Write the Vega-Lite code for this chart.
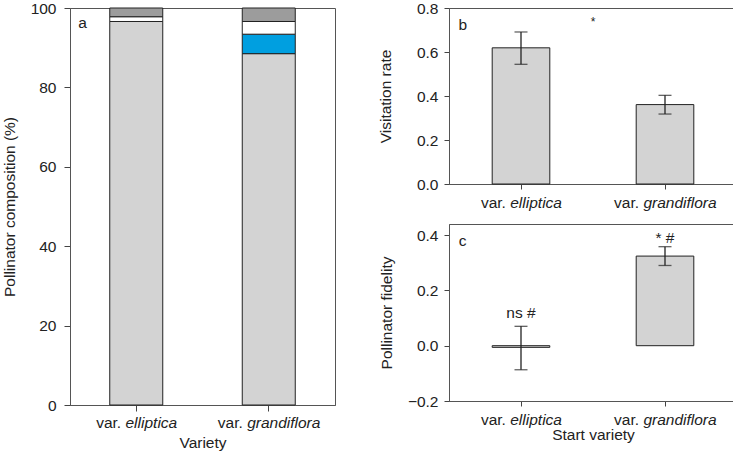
{
  "$schema": "https://vega.github.io/schema/vega-lite/v6.json",
  "padding": {"left": 1, "top": 0, "right": 0, "bottom": 0},
  "config": {
    "font": "Liberation Sans",
    "view": {"stroke": "#555", "strokeWidth": 1},
    "axis": {"grid": false, "labelFontSize": 15.5, "titleFontSize": 15.5, "titleFontWeight": "normal", "labelColor": "#222", "titleColor": "#222", "domainColor": "#555", "tickColor": "#444", "tickSize": 6},
    "text": {"font": "Liberation Sans", "color": "#222"}
  },
  "datasets": {
    "comp": [
      {"variety": "var. elliptica", "taxon": "T1", "rank": 1, "percent": 96.6},
      {"variety": "var. elliptica", "taxon": "T3", "rank": 3, "percent": 1.2},
      {"variety": "var. elliptica", "taxon": "T4", "rank": 4, "percent": 2.2},
      {"variety": "var. grandiflora", "taxon": "T1", "rank": 1, "percent": 88.5},
      {"variety": "var. grandiflora", "taxon": "T2", "rank": 2, "percent": 4.9},
      {"variety": "var. grandiflora", "taxon": "T3", "rank": 3, "percent": 3.2},
      {"variety": "var. grandiflora", "taxon": "T4", "rank": 4, "percent": 3.4}
    ],
    "rate": [
      {"variety": "var. elliptica", "rate": 0.619, "lower": 0.544, "upper": 0.691},
      {"variety": "var. grandiflora", "rate": 0.361, "lower": 0.318, "upper": 0.403}
    ],
    "fid": [
      {"variety": "var. elliptica", "fidelity": -0.006, "lower": -0.087, "upper": 0.070, "sig": "ns #"},
      {"variety": "var. grandiflora", "fidelity": 0.324, "lower": 0.290, "upper": 0.358, "sig": "* #"}
    ],
    "labels": [
      {"variety": "var. elliptica", "pre": "var.", "name": "elliptica", "tagA": "a", "tagB": "b", "tagC": "c", "star": "*"},
      {"variety": "var. grandiflora", "pre": "var.", "name": "grandiflora", "tagA": "", "tagB": "", "tagC": "", "star": ""}
    ]
  },
  "spacing": 41,
  "hconcat": [
    {
      "width": 265,
      "height": 397,
      "encoding": {
        "x": {"field": "variety", "type": "nominal", "scale": {"domain": ["var. elliptica", "var. grandiflora"], "paddingInner": 0.6, "paddingOuter": 0.3},
              "axis": {"title": "Variety", "labels": false, "labelAngle": 0, "titlePadding": 24}}
      },
      "layer": [
        {
          "data": {"name": "comp"},
          "mark": {"type": "bar", "stroke": "#222", "strokeWidth": 1},
          "encoding": {
            "y": {"field": "percent", "type": "quantitative", "stack": "zero", "scale": {"domain": [0, 100], "nice": false},
                  "axis": {"title": "Pollinator composition (%)", "values": [0, 20, 40, 60, 80, 100], "format": "d", "labelPadding": 8, "titlePadding": 13}},
            "color": {"field": "taxon", "type": "nominal", "scale": {"domain": ["T1", "T2", "T3", "T4"], "range": ["#d3d3d3", "#009fe0", "#ffffff", "#9c9c9c"]}, "legend": null},
            "order": {"field": "rank", "type": "quantitative"}
          }
        },
        {
          "data": {"name": "labels"},
          "transform": [{"filter": "datum.variety === 'var. elliptica'"}],
          "mark": {"type": "text", "align": "right", "baseline": "alphabetic", "dx": -15.1, "dy": 23, "fontSize": 15.5},
          "encoding": {"y": {"datum": 0}, "text": {"field": "pre"}}
        },
        {
          "data": {"name": "labels"},
          "transform": [{"filter": "datum.variety === 'var. elliptica'"}],
          "mark": {"type": "text", "align": "left", "baseline": "alphabetic", "dx": -10.75, "dy": 23, "fontSize": 15.5, "fontStyle": "italic"},
          "encoding": {"y": {"datum": 0}, "text": {"field": "name"}}
        },
        {
          "data": {"name": "labels"},
          "transform": [{"filter": "datum.variety === 'var. grandiflora'"}],
          "mark": {"type": "text", "align": "right", "baseline": "alphabetic", "dx": -25.9, "dy": 23, "fontSize": 15.5},
          "encoding": {"y": {"datum": 0}, "text": {"field": "pre"}}
        },
        {
          "data": {"name": "labels"},
          "transform": [{"filter": "datum.variety === 'var. grandiflora'"}],
          "mark": {"type": "text", "align": "left", "baseline": "alphabetic", "dx": -21.6, "dy": 23, "fontSize": 15.5, "fontStyle": "italic"},
          "encoding": {"y": {"datum": 0}, "text": {"field": "name"}}
        },
        {
          "data": {"name": "labels"},
          "transform": [{"filter": "datum.variety === 'var. elliptica'"}],
          "mark": {"type": "text", "align": "left", "baseline": "alphabetic", "dx": -58, "fontSize": 15.5},
          "encoding": {"y": {"datum": 95}, "text": {"field": "tagA"}}
        }
      ]
    },
    {
      "spacing": 11,
      "vconcat": [
        {
          "width": 288,
          "height": 176,
          "encoding": {
            "x": {"field": "variety", "type": "nominal", "scale": {"domain": ["var. elliptica", "var. grandiflora"], "paddingInner": 0.6, "paddingOuter": 0.3},
                  "axis": {"title": null, "labels": false, "tickSize": 5}}
          },
          "layer": [
            {
              "data": {"name": "rate"},
              "mark": {"type": "bar", "fill": "#d3d3d3", "stroke": "#222", "strokeWidth": 1},
              "encoding": {
                "y": {"field": "rate", "type": "quantitative", "scale": {"domain": [0, 0.8], "nice": false},
                      "axis": {"title": "Visitation rate", "values": [0, 0.2, 0.4, 0.6, 0.8], "format": ".1f", "tickSize": 5, "labelPadding": 6, "titlePadding": 23}}
              }
            },
            {
              "data": {"name": "rate"},
              "mark": {"type": "rule", "color": "#222", "strokeWidth": 1.3},
              "encoding": {"y": {"field": "lower", "type": "quantitative"}, "y2": {"field": "upper"}}
            },
            {
              "data": {"name": "rate"},
              "mark": {"type": "tick", "color": "#222", "size": 13, "thickness": 1.3},
              "encoding": {"y": {"field": "upper", "type": "quantitative"}}
            },
            {
              "data": {"name": "rate"},
              "mark": {"type": "tick", "color": "#222", "size": 13, "thickness": 1.3},
              "encoding": {"y": {"field": "lower", "type": "quantitative"}}
            },
            {
              "data": {"name": "labels"},
              "transform": [{"filter": "datum.variety === 'var. elliptica'"}],
              "mark": {"type": "text", "align": "right", "baseline": "alphabetic", "dx": -15.1, "dy": 24, "fontSize": 15.5},
              "encoding": {"y": {"datum": 0}, "text": {"field": "pre"}}
            },
            {
              "data": {"name": "labels"},
              "transform": [{"filter": "datum.variety === 'var. elliptica'"}],
              "mark": {"type": "text", "align": "left", "baseline": "alphabetic", "dx": -10.75, "dy": 24, "fontSize": 15.5, "fontStyle": "italic"},
              "encoding": {"y": {"datum": 0}, "text": {"field": "name"}}
            },
            {
              "data": {"name": "labels"},
              "transform": [{"filter": "datum.variety === 'var. grandiflora'"}],
              "mark": {"type": "text", "align": "right", "baseline": "alphabetic", "dx": -25.9, "dy": 24, "fontSize": 15.5},
              "encoding": {"y": {"datum": 0}, "text": {"field": "pre"}}
            },
            {
              "data": {"name": "labels"},
              "transform": [{"filter": "datum.variety === 'var. grandiflora'"}],
              "mark": {"type": "text", "align": "left", "baseline": "alphabetic", "dx": -21.6, "dy": 24, "fontSize": 15.5, "fontStyle": "italic"},
              "encoding": {"y": {"datum": 0}, "text": {"field": "name"}}
            },
            {
              "data": {"name": "labels"},
              "transform": [{"filter": "datum.variety === 'var. elliptica'"}],
              "mark": {"type": "text", "align": "left", "baseline": "alphabetic", "dx": -62.6, "fontSize": 15.5},
              "encoding": {"y": {"datum": 0.70}, "text": {"field": "tagB"}}
            },
            {
              "data": {"name": "labels"},
              "transform": [{"filter": "datum.variety === 'var. elliptica'"}],
              "mark": {"type": "text", "align": "center", "baseline": "alphabetic", "dx": 72, "fontSize": 12},
              "encoding": {"y": {"datum": 0.72}, "text": {"field": "star"}}
            }
          ]
        },
        {
          "width": 288,
          "height": 177,
          "encoding": {
            "x": {"field": "variety", "type": "nominal", "scale": {"domain": ["var. elliptica", "var. grandiflora"], "paddingInner": 0.6, "paddingOuter": 0.3},
                  "axis": {"title": "Start variety", "labels": false, "tickSize": 5, "titlePadding": 21}}
          },
          "layer": [
            {
              "data": {"name": "fid"},
              "mark": {"type": "bar", "fill": "#d3d3d3", "stroke": "#222", "strokeWidth": 1},
              "encoding": {
                "y": {"field": "fidelity", "type": "quantitative", "scale": {"domain": [-0.2, 0.44], "nice": false, "zero": false},
                      "axis": {"title": "Pollinator fidelity", "values": [-0.2, 0, 0.2, 0.4], "format": ".1f", "tickSize": 5, "labelPadding": 6, "titlePadding": 13}}
              }
            },
            {
              "mark": {"type": "rule", "color": "#555", "strokeWidth": 1},
              "encoding": {"y": {"datum": 0}}
            },
            {
              "data": {"name": "fid"},
              "mark": {"type": "rule", "color": "#222", "strokeWidth": 1.3},
              "encoding": {"y": {"field": "lower", "type": "quantitative"}, "y2": {"field": "upper"}}
            },
            {
              "data": {"name": "fid"},
              "mark": {"type": "tick", "color": "#222", "size": 13, "thickness": 1.3},
              "encoding": {"y": {"field": "upper", "type": "quantitative"}}
            },
            {
              "data": {"name": "fid"},
              "mark": {"type": "tick", "color": "#222", "size": 13, "thickness": 1.3},
              "encoding": {"y": {"field": "lower", "type": "quantitative"}}
            },
            {
              "data": {"name": "fid"},
              "transform": [{"filter": "datum.variety === 'var. elliptica'"}],
              "mark": {"type": "text", "align": "center", "baseline": "alphabetic", "dy": -8, "fontSize": 15.5},
              "encoding": {"y": {"field": "upper", "type": "quantitative"}, "text": {"field": "sig"}}
            },
            {
              "data": {"name": "fid"},
              "transform": [{"filter": "datum.variety === 'var. grandiflora'"}],
              "mark": {"type": "text", "align": "center", "baseline": "alphabetic", "dy": -4, "fontSize": 15.5},
              "encoding": {"y": {"field": "upper", "type": "quantitative"}, "text": {"field": "sig"}}
            },
            {
              "data": {"name": "labels"},
              "transform": [{"filter": "datum.variety === 'var. elliptica'"}],
              "mark": {"type": "text", "align": "right", "baseline": "alphabetic", "dx": -15.1, "dy": 24, "fontSize": 15.5},
              "encoding": {"y": {"datum": -0.2}, "text": {"field": "pre"}}
            },
            {
              "data": {"name": "labels"},
              "transform": [{"filter": "datum.variety === 'var. elliptica'"}],
              "mark": {"type": "text", "align": "left", "baseline": "alphabetic", "dx": -10.75, "dy": 24, "fontSize": 15.5, "fontStyle": "italic"},
              "encoding": {"y": {"datum": -0.2}, "text": {"field": "name"}}
            },
            {
              "data": {"name": "labels"},
              "transform": [{"filter": "datum.variety === 'var. grandiflora'"}],
              "mark": {"type": "text", "align": "right", "baseline": "alphabetic", "dx": -25.9, "dy": 24, "fontSize": 15.5},
              "encoding": {"y": {"datum": -0.2}, "text": {"field": "pre"}}
            },
            {
              "data": {"name": "labels"},
              "transform": [{"filter": "datum.variety === 'var. grandiflora'"}],
              "mark": {"type": "text", "align": "left", "baseline": "alphabetic", "dx": -21.6, "dy": 24, "fontSize": 15.5, "fontStyle": "italic"},
              "encoding": {"y": {"datum": -0.2}, "text": {"field": "name"}}
            },
            {
              "data": {"name": "labels"},
              "transform": [{"filter": "datum.variety === 'var. elliptica'"}],
              "mark": {"type": "text", "align": "left", "baseline": "alphabetic", "dx": -62.3, "fontSize": 15.5},
              "encoding": {"y": {"datum": 0.362}, "text": {"field": "tagC"}}
            }
          ]
        }
      ]
    }
  ]
}
